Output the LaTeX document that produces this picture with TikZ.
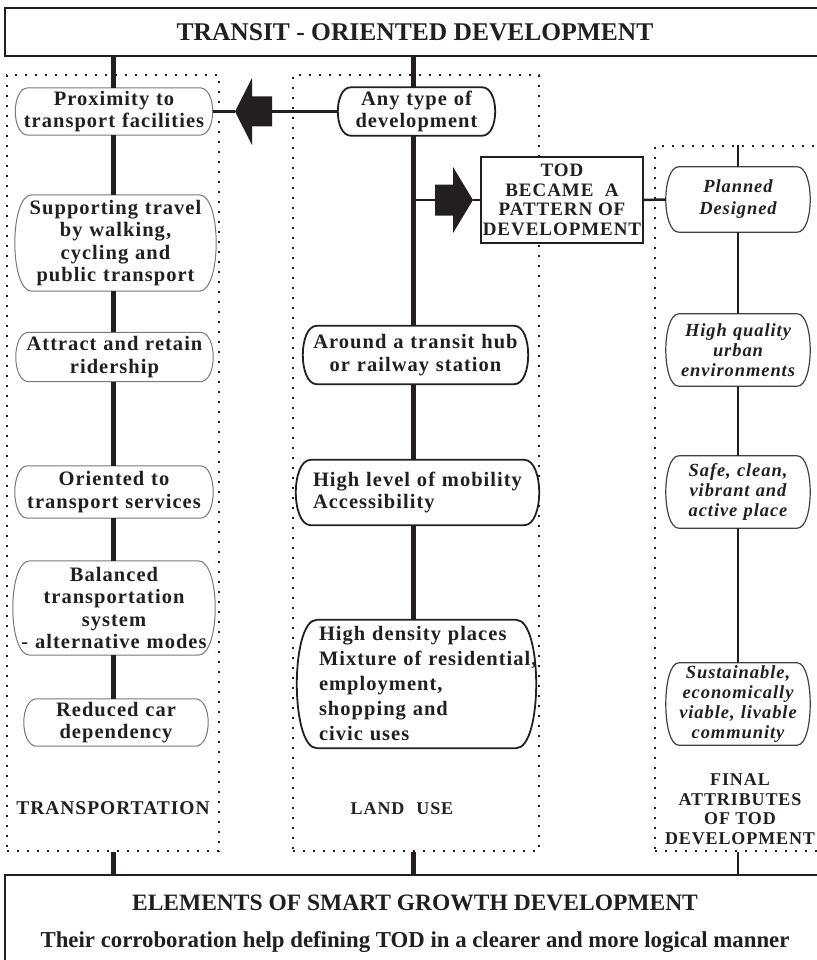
\documentclass[tikz,border=0pt]{standalone}
\usepackage{fontspec}
\setmainfont{Liberation Serif}
\newfontfamily\spaced{Liberation Serif}[LetterSpace=5]
\usetikzlibrary{calc}
\definecolor{ink}{RGB}{35,31,32}
\definecolor{rimgray}{RGB}{120,120,120}
\pgfdeclarelayer{back}
\pgfdeclarelayer{mid}
\pgfsetlayers{back,mid,main}

% outline with bulging ends drawn around a rectangular node
% #1 path style, #2 node name, #3 bulge of the ends
\newcommand\pill[3]{%
  \begin{pgfonlayer}{mid}
  \path[#1] ($(#2.north west)+(#3,0)$) -- ($(#2.north east)+(-#3,0)$)
    .. controls ($(#2.north east)+(#3/3,0)$) and ($(#2.south east)+(#3/3,0)$) .. ($(#2.south east)+(-#3,0)$)
    -- ($(#2.south west)+(#3,0)$)
    .. controls ($(#2.south west)+(-#3/3,0)$) and ($(#2.north west)+(-#3/3,0)$) .. ($(#2.north west)+(#3,0)$)
    -- cycle;
  \end{pgfonlayer}}

\tikzset{
  every node/.style={text=ink},
  trunk/.style={draw=ink, line width=5pt},
  thintrunk/.style={draw=ink, line width=2.8pt},
  branch/.style={draw=ink, line width=2.5pt},
  frame/.style={draw=ink, line width=2.5pt, rectangle, inner sep=0pt},
  dotbox/.style={draw=ink, line width=2.4pt, dash pattern=on 2.4pt off 7.6pt, rectangle, inner sep=0pt},
  cell/.style={rectangle, inner sep=0pt, align=center},
  lcell/.style={cell, font=\spaced\bfseries\fontsize{20.5pt}{22.5pt}\selectfont},
  mcell/.style={cell, font=\spaced\bfseries\fontsize{20.5pt}{22.5pt}\selectfont},
  rcell/.style={cell, font=\spaced\bfseries\itshape\fontsize{18.5pt}{20pt}\selectfont},
  lrim/.style={draw=rimgray, line width=1pt, fill=white},
  mrim/.style={draw=ink, line width=1.8pt, fill=white},
  rrim/.style={draw=ink!85, line width=1.2pt, fill=white},
  caption/.style={align=center, font=\spaced\bfseries\fontsize{18pt}{19.5pt}\selectfont},
}

\begin{document}
\begin{tikzpicture}[x=1pt,y=-1pt]
\useasboundingbox (0,0) rectangle (816,960);

% trunk lines run along these verticals
\coordinate (lx) at (113,0);
\coordinate (mx) at (413,0);
\coordinate (rx) at (738,0);

% dotted group frames
\begin{pgfonlayer}{back}
\node[dotbox, minimum width=212pt, minimum height=776pt] (lbox) at (113,463) {};
\node[dotbox, minimum width=246pt, minimum height=776pt] (mbox) at (416,463) {};
\node[dotbox, minimum width=167pt, minimum height=705pt] (rbox) at (738.5,498.5) {};
\end{pgfonlayer}

% heading and base boxes
\node[frame, minimum width=820pt, minimum height=48pt,
      font=\bfseries\fontsize{25.5pt}{28pt}\selectfont] (title) at (415,32) {TRANSIT - ORIENTED DEVELOPMENT};
\node[frame, minimum width=820pt, minimum height=120pt] (base) at (415,935) {};
\node[font=\bfseries\fontsize{23.5pt}{26pt}\selectfont] (basehead) at (415,903) {ELEMENTS OF SMART GROWTH DEVELOPMENT};
\node[font=\bfseries\fontsize{22.8pt}{25pt}\selectfont] (basenote) at (415,942) {Their corroboration help defining TOD in a clearer and more logical manner};

% transportation column
\node[lcell, minimum width=197pt, text width=197pt, minimum height=47pt] (prox) at (114,111.5) {Proximity to\\transport facilities};
\node[lcell, minimum width=201pt, text width=201pt, minimum height=96pt] (supp) at (115.5,243) {Supporting travel\\by walking,\\cycling and\\public transport};
\node[lcell, minimum width=197pt, text width=197pt, minimum height=49pt] (attr) at (114.5,357) {Attract and retain\\ridership};
\node[lcell, minimum width=198pt, text width=198pt, minimum height=52pt] (orie) at (114,492) {Oriented to\\transport services};
\node[lcell, minimum width=202pt, text width=202pt, minimum height=94pt] (bala) at (114,608) {Balanced\\transportation\\system\\\mbox{- alternative modes}};
\node[lcell, minimum width=184pt, text width=184pt, minimum height=47pt] (redu) at (116,722.5) {Reduced car\\dependency};
\node[caption, font=\spaced\bfseries\fontsize{19.5pt}{21pt}\selectfont] (ltag) at (113,808) {TRANSPORTATION};
\pill{lrim}{prox}{13}
\pill{lrim}{supp}{17}
\pill{lrim}{attr}{13}
\pill{lrim}{orie}{13}
\pill{lrim}{bala}{17}
\pill{lrim}{redu}{13}

% land use column
\node[mcell, minimum width=157pt, text width=157pt, minimum height=48pt] (any) at (416.5,111.5) {Any type of\\development};
\node[mcell, minimum width=225pt, text width=225pt, minimum height=58pt] (around) at (415.5,355) {\mbox{Around a transit hub}\\or railway station};
\node[mcell, align=left, inner xsep=17pt, minimum width=243pt, text width=209pt, minimum height=65pt] (mobil) at (417.5,492.5) {\mbox{High level of mobility}\\Accessibility};
\node[mcell, align=left, inner xsep=22pt, minimum width=239pt, text width=195pt, minimum height=128pt,
      font=\spaced\bfseries\fontsize{20.5pt}{25pt}\selectfont] (dens) at (416.5,684) {\mbox{High density places}\\\mbox{Mixture of residential,}\\employment,\\shopping and\\civic uses};
\node[caption, font=\spaced\bfseries\fontsize{18pt}{20pt}\selectfont] (mtag) at (402,809) {LAND\hspace{12pt}USE};
\pill{mrim}{any}{13}
\pill{mrim}{around}{14}
\pill{mrim}{mobil}{15}
\pill{mrim}{dens}{20}

% pattern box
\node[frame, draw=ink, line width=2pt, fill=white, minimum width=162pt, minimum height=86pt, align=center,
      font=\spaced\bfseries\fontsize{19pt}{19.5pt}\selectfont] (tod) at (562,200) {TOD\\BECAME\ \ A\\PATTERN OF\\DEVELOPMENT};

% final attributes column
\node[rcell, minimum width=144pt, text width=144pt, minimum height=65pt, font=\spaced\bfseries\itshape\fontsize{18.5pt}{22pt}\selectfont] (plan) at (738,199.5) {Planned\\Designed};
\node[rcell, minimum width=144pt, text width=144pt, minimum height=72pt] (hq) at (738,350) {High quality\\urban\\environments};
\node[rcell, minimum width=144pt, text width=144pt, minimum height=72pt] (safe) at (738,492) {Safe, clean,\\vibrant and\\active place};
\node[rcell, minimum width=144pt, text width=144pt, minimum height=82pt] (sust) at (738,704) {Sustainable,\\economically\\viable, livable\\community};
\node[caption, font=\spaced\bfseries\fontsize{18pt}{19.5pt}\selectfont] (rtag) at (740,809) {FINAL\\ATTRIBUTES\\OF TOD\\DEVELOPMENT};
\pill{rrim}{plan}{13}
\pill{rrim}{hq}{13}
\pill{rrim}{safe}{13}
\pill{rrim}{sust}{13}

% transportation trunk
\draw[trunk] (title.south -| lx) -- (prox.north -| lx);
\draw[trunk] (prox.south -| lx) -- (supp.north -| lx);
\draw[trunk] (supp.south -| lx) -- (attr.north -| lx);
\draw[trunk] (attr.south -| lx) -- (orie.north -| lx);
\draw[trunk] (orie.south -| lx) -- (bala.north -| lx);
\draw[trunk] (bala.south -| lx) -- (redu.north -| lx);
\draw[trunk] (lbox.south -| lx) -- (base.north -| lx);

% land use trunk
\draw[trunk] (title.south -| mx) -- (any.north -| mx);
\draw[trunk] (any.south -| mx) -- (around.north -| mx);
\draw[trunk] (around.south -| mx) -- (mobil.north -| mx);
\draw[trunk] (mobil.south -| mx) -- (dens.north -| mx);
\draw[trunk] (mbox.south -| mx) -- (base.north -| mx);

% final attributes trunk
\draw[thintrunk] (rbox.north -| rx) -- (plan.north -| rx);
\draw[thintrunk] (plan.south -| rx) -- (hq.north -| rx);
\draw[thintrunk] (hq.south -| rx) -- (safe.north -| rx);
\draw[thintrunk] (safe.south -| rx) -- (sust.north -| rx);
\draw[thintrunk] (rbox.south -| rx) -- (base.north -| rx);

% block arrows
\coordinate (ltip) at (235,111.5);
\coordinate (ltail) at (272,111.5);
\fill[ink] (ltip) -- ++(17,-33.5) -- ++(0,18.5) -- ++(20,0) -- ++(0,30) -- ++(-20,0) -- ++(0,18.5) -- cycle;
\coordinate (rtail) at (435,200);
\coordinate (rtip) at (473,200);
\fill[ink] (rtail) -- ++(0,-15.5) -- ++(18,0) -- ++(0,-17.5) -- ++(20,33) -- ++(-20,33) -- ++(0,-17.5) -- ++(-18,0) -- cycle;

% horizontal links
\draw[branch] (prox.east) -- (ltip);
\draw[branch] (ltail) -- (any.west);
\draw[branch] (rtail -| mx) -- (rtail);
\draw[branch] (rtip) -- (tod.west);
\draw[branch] (tod.east) -- (plan.west);
\end{tikzpicture}
\end{document}
